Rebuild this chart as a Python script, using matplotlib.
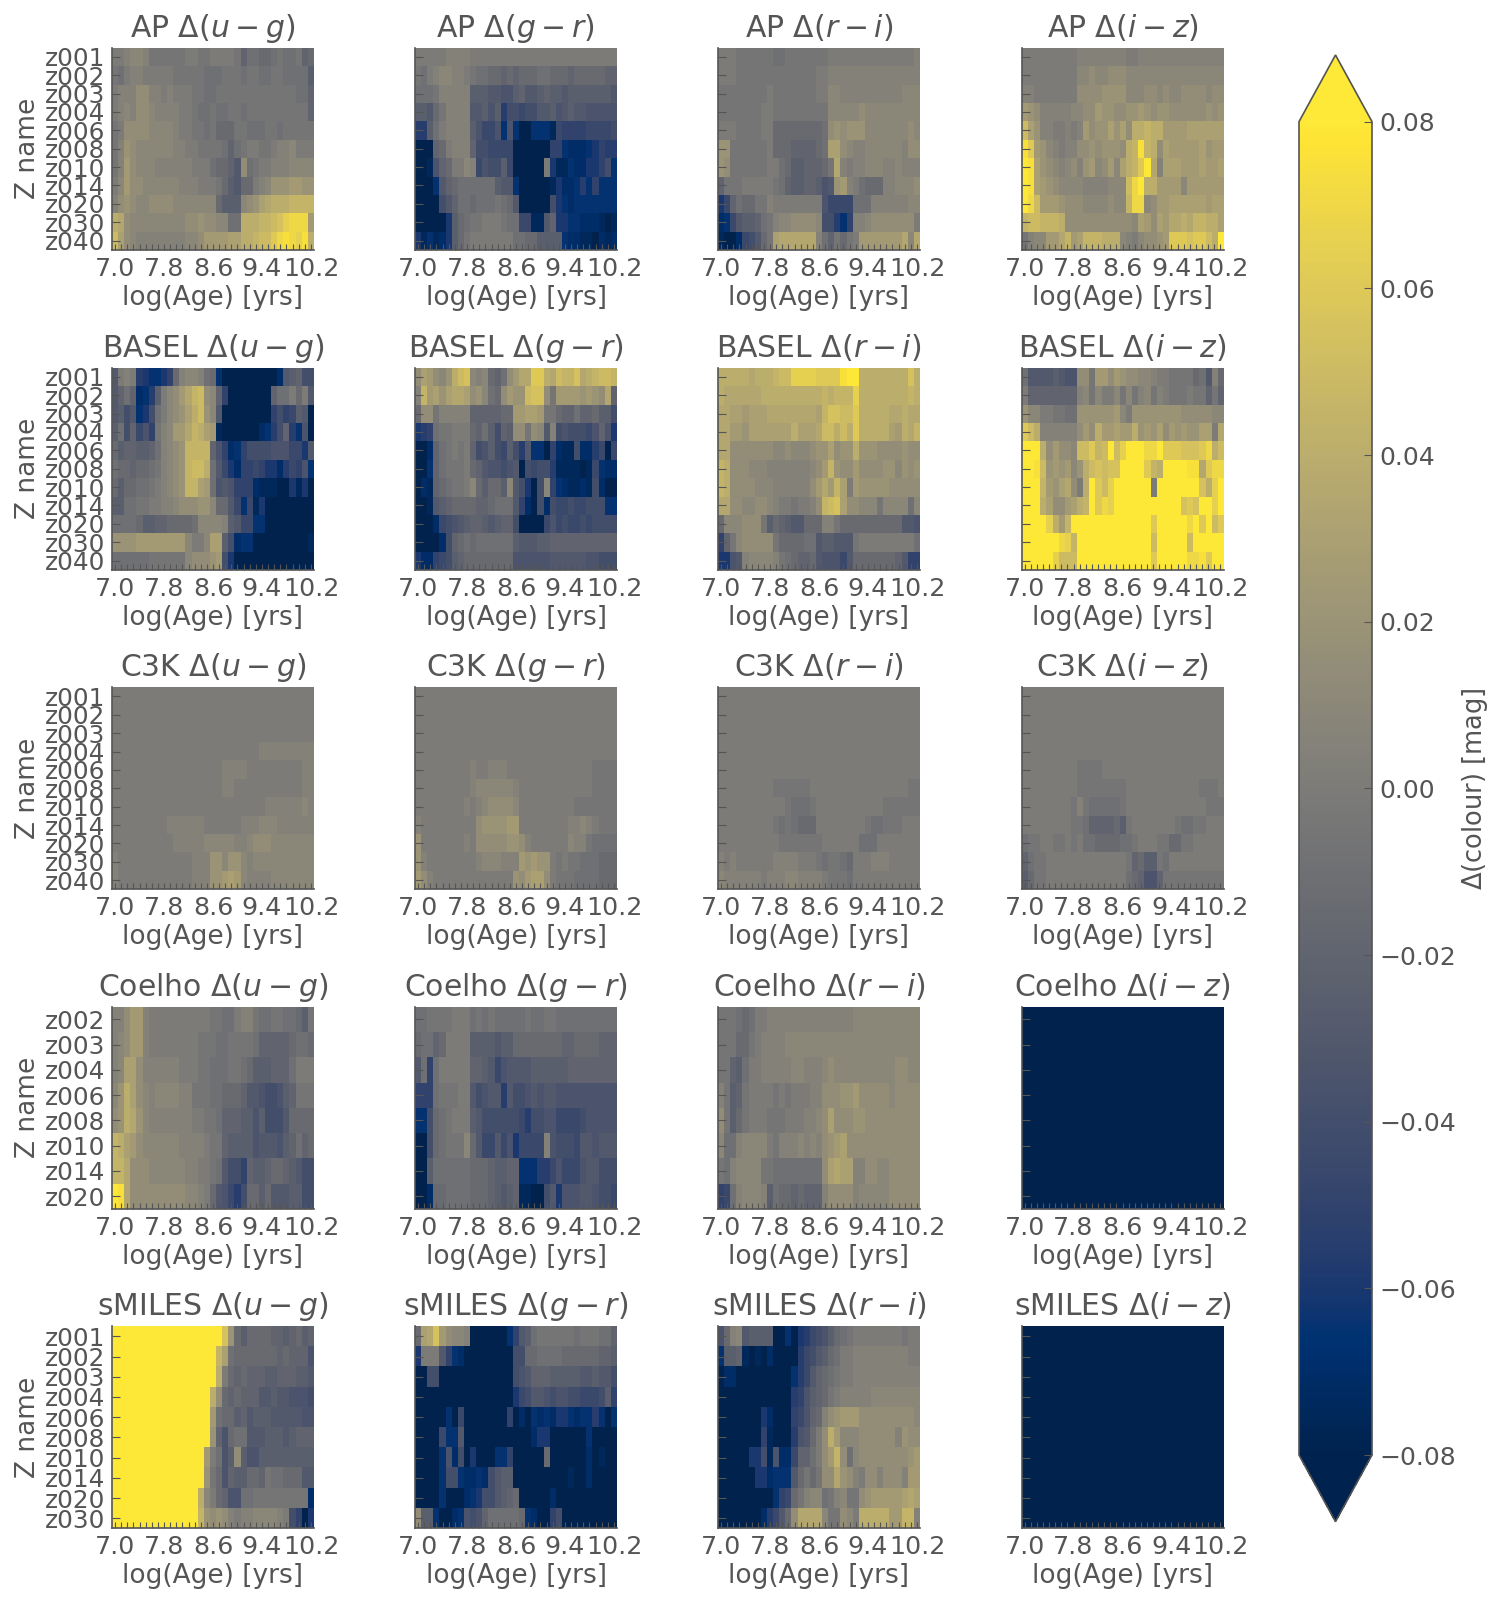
import numpy as np
import matplotlib
matplotlib.use("Agg")
import matplotlib.pyplot as plt
from matplotlib.cm import ScalarMappable
from matplotlib.colors import Normalize

# cell values below are in units of 0.005 mag
UNIT = 0.005
AGE_LABELS = ['7.0', '7.8', '8.6', '9.4', '10.2']
Z_ALL = ['z001', 'z002', 'z003', 'z004', 'z006', 'z008', 'z010', 'z014', 'z020', 'z030', 'z040']
Z_COELHO = ['z002', 'z003', 'z004', 'z006', 'z008', 'z010', 'z014', 'z020']
Z_SMILES = ['z001', 'z002', 'z003', 'z004', 'z006', 'z008', 'z010', 'z014', 'z020', 'z030']
LIBRARIES = ['AP', 'BASEL', 'C3K', 'Coelho', 'sMILES']
COLOURS = ['u-g', 'g-r', 'r-i', 'i-z']

AP_UG = [
    [0,0,1,2,2,1,-1,-1,-1,-1,-1, -1,0,0,-1,-1,0,0,0,0,-1,-4, -2,-2,-3,-3,-2,-1,-2,-2,-1,-4,-3],
    [-1,-2,0,1,1,0,0,0,0,0,-1, -1,-1,-1,-1,-2,-2,-2,-1,-1,-1,-2, -1,-1,-2,-2,-1,-1,-2,-2,-2,-2,-5],
    [0,1,1,1,3,3,1,1,0,1,0, 0,0,-1,-1,-2,-2,-1,-1,-1,-1,-1, -1,-1,-1,-1,-1,-1,-1,-1,-2,-2,-4],
    [0,1,2,1,3,3,2,1,1,1,1, 0,0,-1,-2,-2,-1,-2,-2,-1,-1,-2, -1,-1,-1,-1,-1,-1,-1,-1,-1,-1,-4],
    [-1,0,3,3,3,3,2,2,2,2,1, 0,0,-1,-1,-2,-1,-3,-3,-3,-1,-1, -2,-2,-2,-1,-1,-2,-1,-1,-1,-1,-1],
    [-1,1,4,3,2,2,2,2,2,2,1, 1,0,0,-1,-1,-1,-1,-2,-4,-2,-1, 0,0,-1,-1,0,1,1,2,0,0,0],
    [-1,1,5,3,2,2,2,1,1,1,1, 1,1,0,0,0,-2,-3,-3,-4,-6,3, -2,-1,0,0,1,1,1,2,2,2,2],
    [0,2,5,3,3,2,2,2,2,2,2, 1,1,1,0,0,0,-1,-3,-5,-6,-3, -3,0,1,2,4,4,4,5,5,4,4],
    [1,3,4,3,2,2,3,3,3,3,2, 2,2,2,2,2,2,-3,-5,-5,-5,2, 3,4,6,7,8,8,8,9,9,9,9],
    [8,7,3,2,2,2,2,2,2,2,2, 2,3,3,4,3,3,2,2,-2,-2,8, 8,8,9,9,10,11,13,14,14,14,5],
    [10,6,3,2,1,1,1,1,1,1,1, 1,2,2,3,5,5,5,5,6,6,8, 8,9,10,10,12,14,15,14,13,15,8],
]
AP_GR = [
    [0,0,0,0,0,1,1,1,1,0,0, 0,0,0,0,0,0,0,0,0,0,0, 0,0,0,0,0,0,0,0,0,0,0],
    [-1,-2,0,1,2,2,1,1,0,-1,-2, -2,-3,-3,-4,-3,-4,-3,-3,-3,-2,-2, -3,-3,-3,-4,-3,-3,-3,-3,-3,-4,-4],
    [-2,-2,-2,-1,1,1,1,1,1,-5,-5, -5,-6,-6,-7,-7,-5,-4,-6,-6,-5,-4, -5,-5,-6,-5,-5,-5,-5,-5,-5,-5,-6],
    [-5,-5,-6,-3,-1,1,1,1,1,-6,-6, -5,-7,-5,-11,-8,-8,-9,-8,-8,-6,-6, -5,-7,-6,-5,-6,-6,-7,-7,-7,-7,-7],
    [-11,-11,-5,-2,0,1,1,1,1,-5,-7, -9,-9,-7,-13,-7,-13,-16,-16,-13,-13,-13, -15,-9,-10,-10,-10,-10,-9,-9,-9,-9,-8],
    [-16,-16,-16,-4,-3,0,1,1,1,-4,-8, -8,-9,-9,-9,-9,-16,-16,-16,-16,-16,-16, -10,-10,-13,-14,-14,-14,-13,-12,-10,-11,-11],
    [-16,-16,-15,-7,-4,-3,0,0,2,1,-9, -7,-8,-8,-5,-9,-16,-16,-16,-16,-16,0, -12,-15,-15,-13,-14,-14,-12,-12,-10,-8,-13],
    [-16,-16,-16,-13,-6,-4,-3,-2,-2,-2,-2, -2,-2,-5,-6,-6,-13,-16,-16,-16,-16,-16, -15,-12,-14,-14,-13,-11,-13,-10,-13,-13,-13],
    [-16,-16,-16,-16,-8,-6,-4,-2,-2,-3,-2, -2,-2,-1,-2,-3,-6,-16,-16,-16,-16,-16, -8,-12,-13,-14,-13,-13,-13,-13,-13,-13,-13],
    [-16,-16,-16,-16,-16,-12,-5,-3,-2,-1,-1, 0,0,0,-1,-2,-2,-9,-9,-15,-15,-6, -4,-12,-12,-13,-13,-14,-14,-14,-15,-16,-15],
    [-12,-15,-13,-15,-14,-12,-5,-3,-1,0,0, 0,0,0,0,0,-2,-2,-3,-3,-5,-5, -5,-5,-13,-14,-14,-15,-15,-16,-14,-15,-14],
]
AP_RI = [
    [0,0,0,-1,-1,-1,-1,-1,-1,-2,-2, -1,-1,-1,-1,-1,-1,-1,0,0,0,0, 0,0,0,0,0,0,0,0,0,0,1],
    [0,0,0,-1,-1,-1,-1,-1,-1,-1,-1, -1,-1,-1,-1,-1,0,0,1,1,1,1, 1,1,1,1,1,1,1,1,1,1,1],
    [-1,-1,-1,-1,-1,-1,-1,-1,0,-1,-1, -1,-1,-1,-1,-1,0,0,2,2,1,1, 1,1,1,1,1,1,1,1,2,2,2],
    [-1,-1,-1,-1,-1,-1,-1,0,0,-1,-1, -1,-1,-1,-1,-1,-1,-1,2,2,2,2, 2,3,2,2,2,2,2,2,2,2,2],
    [0,0,0,-1,-1,-1,-1,0,0,-3,-3, -3,-3,-3,-3,-3,-3,-2,3,4,3,4, 4,4,2,2,2,2,2,2,2,3,2],
    [4,4,-1,-1,-1,-1,-1,-1,0,-3,-3, -3,-4,-4,-4,-4,-3,-2,6,6,3,2, 1,1,2,2,2,2,2,2,1,3,3],
    [4,3,-1,-1,-1,-1,-1,-1,0,0,-2, -3,-5,-5,-4,-4,-4,-3,-1,7,1,0, 1,1,2,2,2,1,1,2,1,1,1],
    [-4,-1,-1,-1,0,0,0,0,0,-1,-2, -4,-5,-5,-4,-4,-5,-7,-6,4,5,1, 0,-2,-3,-3,-3,1,1,2,2,2,3],
    [-12,-9,-4,-2,-3,-3,-1,-1,1,0,0, 0,0,0,0,0,0,-7,-9,-9,-9,-9, -2,-2,-2,1,1,1,1,1,1,2,2],
    [-14,-13,-9,-6,-5,-5,-4,-2,-1,1,2, 2,3,3,3,3,2,-8,-8,-11,-13,-10, 1,1,2,3,3,3,3,3,3,3,0],
    [-15,-16,-16,-14,-9,-8,-6,-3,-1,6,7, 7,7,7,7,7,1,-2,-4,-1,-3,-1, 0,5,5,5,5,5,5,5,7,2,7],
]
AP_IZ = [
    [0,0,0,0,0,0,0,0,0,1,1, 1,1,1,1,1,1,0,0,1,1,1, 1,1,1,1,1,1,1,1,1,1,1],
    [0,0,0,0,0,0,0,0,0,2,2, 3,2,2,3,3,3,2,2,2,2,2, 2,2,2,2,2,2,2,2,2,2,2],
    [1,1,0,0,0,0,0,0,0,3,3, 3,3,4,4,4,4,2,2,2,3,3, 2,3,2,2,3,3,3,3,2,3,3],
    [5,4,3,1,1,1,1,1,2,2,3, 3,5,4,4,3,3,4,4,5,4,3, 4,4,3,3,3,3,3,3,4,3,4],
    [10,6,4,1,1,0,0,1,0,1,5, 3,4,4,6,4,6,3,8,8,9,8, 8,5,5,5,5,6,6,6,6,6,6],
    [15,12,5,4,2,1,0,1,1,3,3, 4,3,4,4,4,3,8,9,15,9,8, 3,6,5,5,5,5,5,6,4,5,5],
    [16,15,6,4,3,2,1,2,3,1,4, 5,2,3,5,2,6,8,9,12,16,7, 1,6,6,6,5,5,5,6,5,5,6],
    [16,15,6,5,4,3,2,2,2,2,1, 1,1,1,2,2,2,10,14,16,8,8, 5,5,5,5,2,5,5,5,5,5,5],
    [16,14,10,5,5,5,4,3,3,3,2, 2,2,2,3,2,2,9,14,14,2,3, 5,5,6,6,6,6,6,6,5,6,6],
    [9,10,10,9,9,9,8,3,3,3,3, 3,3,3,3,3,3,3,2,6,5,3, 6,5,7,7,8,7,9,9,8,8,6],
    [-1,1,2,2,5,5,7,9,5,6,9, 9,9,8,8,8,2,1,0,2,3,3, 4,5,12,12,12,11,12,12,10,8,16],
]
BASEL_UG = [
    [-6,0,1,0,-11,-12,-13,-13,-12,-10,-3, 1,2,2,1,-2,-3,-13,-16,-16,-16,-16, -16,-16,-16,-16,-16,-14,-6,-5,-4,-8,-8],
    [-6,-4,-2,-4,-14,-13,-11,-5,0,2,3, 5,7,9,10,3,2,-4,-10,-16,-16,-16, -16,-16,-16,-16,-4,-2,-2,0,-3,0,-6],
    [-6,-5,-8,-6,-13,-12,-8,-2,0,2,3, 4,6,8,10,4,2,-6,-16,-16,-16,-16, -16,-16,-16,-16,-10,-8,-10,-9,-5,-6,-16],
    [-5,-2,-8,-4,-9,-7,-10,-1,1,2,5, 5,7,9,8,6,5,-15,-16,-16,-16,-16, -16,-16,-14,-13,-11,-8,-4,-11,-13,-7,-16],
    [-3,-5,-4,-4,-5,-5,-4,-2,1,2,3, 4,9,9,9,9,-4,-7,-10,-14,-13,-10, -8,-8,-8,-8,-7,-7,-7,-9,-9,-12,-6],
    [-2,-3,-3,-4,-3,-3,-2,-1,1,2,3, 4,9,10,10,8,-2,-6,-9,-12,-14,-10, -10,-9,-10,-12,-12,-14,-11,-9,-10,-7,-13],
    [-3,-5,-3,-3,-2,-2,-1,0,1,2,3, 4,9,9,6,5,-2,-7,-6,-7,-10,-10, -10,-14,-15,-15,-15,-16,-16,-12,-15,-12,-16],
    [-5,-5,-2,-2,-1,-1,0,0,1,1,2, 3,3,3,4,4,2,-3,-3,-6,-9,-13, -9,-15,-12,-16,-16,-16,-16,-16,-16,-16,-16],
    [-2,-2,-2,-2,-3,-5,-5,-4,-4,-3,-3, -3,-3,-2,2,2,2,2,1,-5,-6,-9, -9,-13,-13,-16,-16,-16,-16,-16,-16,-16,-16],
    [4,4,4,4,5,5,5,5,5,5,5, 5,2,0,0,2,6,6,-5,-8,-14,-13, -13,-16,-16,-16,-16,-16,-16,-16,-16,-16,-15],
    [-2,-2,-2,-2,-2,-2,-1,-1,-1,-1,-1, -1,2,3,3,3,4,5,-8,-12,-16,-16, -16,-16,-16,-16,-16,-16,-16,-16,-16,-16,-16],
]
BASEL_GR = [
    [3,6,5,3,2,4,8,10,11,2,1, 2,-3,-4,-2,3,5,7,7,12,12,8, 7,10,9,9,11,7,8,9,10,10,9],
    [1,9,5,6,4,6,7,7,6,3,4, 2,-2,-3,3,5,4,4,10,11,11,3, -1,5,5,5,5,4,5,4,3,7,-4],
    [-3,3,3,-1,1,1,1,1,1,-4,-4, -4,-4,-4,-3,-3,5,5,6,6,5,-1, -1,-3,-4,-4,-2,-4,-4,-3,-5,-5,-8],
    [-12,-11,-10,-2,-1,-1,0,0,0,-3,-4, -2,-5,-8,-4,-5,3,3,-1,3,2,-6, 1,-8,-7,-8,-8,-8,-9,-7,-4,-7,-12],
    [-16,-16,-14,-4,-2,-1,0,-1,0,-4,-8, -7,-5,-8,-9,-5,-8,-11,-6,-13,-13,-16, -10,-14,-15,-15,-8,-14,-14,-11,-9,-16,-9],
    [-16,-16,-13,-4,-2,-1,-1,-1,0,-3,-4, -6,-7,-7,-8,-7,-6,-16,-8,-9,-8,-8, -11,-15,-15,-15,-15,-16,-15,-9,-13,-14,-14],
    [-16,-14,-15,-4,-3,-2,-1,-1,0,2,-3, -5,-3,-3,-5,2,-6,-8,-12,-16,-8,2, -10,-13,-14,-15,-15,-14,-15,-8,-14,-16,-16],
    [-16,-16,-15,-6,-5,-4,-3,-3,-3,-3,-4, -4,-3,-2,-2,-2,-6,-10,-14,-16,-8,-14, -8,-9,-9,-8,-9,-9,-8,-8,-8,-13,-13],
    [-16,-16,-16,-14,-9,-8,-7,-6,-5,-4,-4, -5,-6,-5,-4,-4,-8,-16,-16,-16,-16,-9, -7,-9,-8,-9,-9,-8,-9,-8,-8,-8,-8],
    [-16,-16,-16,-16,-14,-8,-4,-3,-2,-3,-2, -2,-2,-2,-2,-2,-5,-6,-6,-6,-5,-5, -4,-4,-4,-4,-4,-4,-4,-4,-4,-4,-4],
    [-12,-14,-14,-10,-9,-8,-5,-4,-3,-3,-3, -3,-3,-3,-3,-3,-7,-7,-7,-7,-7,-7, -6,-6,-6,-6,-6,-6,-7,-7,-8,-8,-8],
]
BASEL_RI = [
    [8,8,8,8,8,7,8,8,8,9,10, 10,13,13,13,13,12,12,12,12,15,16, 16,8,8,8,8,8,8,8,8,11,8],
    [8,7,7,7,7,7,7,8,8,8,8, 8,8,8,8,8,8,9,8,9,9,9, 13,8,8,8,8,8,8,8,8,9,8],
    [7,7,6,6,5,6,6,6,7,7,7, 7,7,7,7,7,6,9,11,11,10,10, 12,8,8,8,8,8,7,7,8,7,7],
    [7,7,5,5,4,6,6,6,6,6,6, 6,8,6,6,6,7,10,10,8,10,8, 12,8,8,8,8,8,6,5,8,7,9],
    [7,7,3,3,3,3,3,3,3,2,2, 3,2,2,2,3,4,4,6,3,4,4, 8,4,4,4,3,3,3,3,4,3,3],
    [9,8,3,3,3,2,2,2,1,1,1, 1,1,1,1,2,3,5,9,4,3,3, 5,3,3,3,3,4,4,2,4,3,4],
    [9,8,3,3,3,3,2,2,2,1,1, 1,1,1,1,3,5,7,5,9,6,0, 5,4,4,4,4,4,3,3,3,3,3],
    [7,7,3,3,2,2,3,3,2,1,0, 0,-1,0,0,1,3,9,10,11,6,3, 3,2,2,2,-1,2,2,2,2,-2,2],
    [-3,2,2,2,3,3,3,-1,-5,-3,-4, -5,-6,-6,-3,-3,-3,1,1,-1,-3,-3, -3,-3,-3,-3,-3,-3,-3,-3,-6,-6,-7],
    [-10,-4,-1,2,3,3,3,3,3,-1,-3, -3,-3,-3,-2,-2,-6,-5,-5,-6,-6,-6, -1,0,0,0,0,0,0,0,0,0,-2],
    [-12,-12,-7,-6,1,2,2,2,2,1,-1, -2,-3,-4,-4,-3,-6,-7,-7,-7,-9,-6, -3,-3,-3,-3,-3,-3,-3,-4,-6,-10,-10],
]
BASEL_IZ = [
    [-2,-6,-6,-6,-6,-5,-6,-7,-7,3,3, -1,5,5,3,5,4,3,3,2,2,1, 0,0,-1,-1,-1,-1,-3,-2,-6,1,-3],
    [0,-4,-4,-4,-4,-4,-4,-4,-4,1,2, -1,2,0,0,2,-1,2,-1,1,2,-1, 1,0,-1,-1,-1,0,-1,-1,-4,-1,-4],
    [4,2,2,0,0,-1,-1,-2,-2,4,4, 4,4,4,4,5,2,0,4,4,4,4, 4,4,4,4,3,3,3,3,3,2,2],
    [12,10,8,1,1,1,1,1,1,3,5, 3,8,5,5,6,5,5,8,4,5,4, 6,3,5,4,5,4,4,6,6,0,7],
    [16,16,16,8,3,5,3,3,2,10,10, 12,9,10,16,10,13,16,16,16,14,14, 16,12,12,12,11,11,11,12,14,8,10],
    [16,16,15,10,4,5,4,5,2,4,8, 10,11,10,11,11,16,16,16,16,12,9, 8,16,16,16,16,15,15,7,12,14,14],
    [16,16,16,9,5,4,6,7,3,0,8, 16,12,10,13,16,16,16,16,16,16,0, 16,16,16,16,16,16,16,11,8,13,16],
    [16,16,16,8,6,3,3,5,6,8,9, 16,12,14,13,16,16,16,16,16,16,16, 16,16,16,16,11,12,11,16,16,13,16],
    [16,16,16,16,13,8,5,9,16,16,16, 16,16,16,16,16,16,16,16,16,16,12, 16,16,16,16,16,14,16,12,16,10,12],
    [16,16,16,16,16,16,14,13,9,16,16, 16,16,16,16,16,16,16,16,16,16,10, 16,16,16,16,16,10,16,16,16,16,16],
    [16,16,16,16,16,13,10,10,10,16,16, 16,16,16,16,16,16,16,16,16,16,12, 16,16,16,16,16,14,14,15,12,16,16],
]
C3K_UG = [
    [0]*33,
    [0]*33,
    [0]*33,
    [0]*24 + [1]*9,
    [0,0,0,0,0,0,0,0,0,0,0, 0,0,0,0,0,0,0,1,1,1,1, 0,0,0,0,0,0,0,0,0,1,1],
    [0,0,0,0,0,0,0,0,0,0,0, 0,0,0,0,0,0,0,1,1,0,0, 0,0,0,0,0,0,0,0,0,1,1],
    [0,0,0,0,0,0,0,0,0,0,0, 0,0,0,0,0,0,0,0,0,0,0, 0,0,0,1,1,1,1,1,1,2,1],
    [0,0,0,0,0,0,0,0,0,1,1, 1,1,1,1,0,0,0,0,0,0,1, 1,1,2,2,2,1,1,1,1,1,1],
    [0,0,0,0,0,0,0,0,0,0,1, 1,1,1,1,2,2,2,2,2,1,1, 2,3,3,3,2,2,2,2,2,2,2],
    [1,0,0,0,0,0,0,0,0,0,0, 0,0,1,1,1,4,4,2,4,4,2, 1,2,2,2,2,2,2,2,2,2,2],
    [1,0,0,0,0,0,0,0,0,0,0, 0,0,1,1,1,4,4,5,6,5,2, 1,1,1,1,2,2,2,2,2,2,2],
]
C3K_GR = [
    [0]*33,
    [0]*33,
    [0]*33,
    [0]*33,
    [0,0,0,0,0,0,0,0,0,1,0, 0,1,1,1,0,0,0,0,0,0,0, 0,0,0,0,0,0,0,-1,-1,-1,-1],
    [0,0,0,0,0,0,0,0,0,1,2, 2,2,2,2,2,1,0,0,0,0,0, 0,0,0,0,0,0,0,-1,-1,-1,-1],
    [0,0,0,0,0,0,0,0,1,0,1, 2,3,3,3,3,2,0,0,0,0,0, 0,0,0,0,-1,-1,-1,-1,-1,-1,-1],
    [1,0,0,0,0,0,0,0,0,0,3, 4,4,4,4,5,5,0,0,0,0,0, 0,0,0,1,1,2,1,0,-1,-1,-1],
    [4,0,0,0,0,0,0,0,1,0,3, 3,3,3,3,4,4,3,1,0,0,0, 0,0,0,2,1,1,-1,-2,-2,-2,-2],
    [4,1,0,0,0,0,0,0,0,0,1, 2,2,2,1,1,1,5,4,5,4,4, 0,-1,0,-1,-1,-2,-2,-2,-3,-3,-3],
    [5,3,1,0,0,0,0,0,0,0,0, 0,0,0,0,0,4,3,5,6,6,3, 0,-1,-1,-1,-2,-2,-2,-2,-3,-3,-3],
]
C3K_RI = [
    [0]*33,
    [0]*33,
    [0]*33,
    [0]*33,
    [0]*33,
    [0,0,0,0,0,0,0,0,0,-1,-1, -1,-1,-1,-1,0,0,0,0,0,0,0, 0,0,0,0,0,0,0,0,0,-1,-1],
    [0,0,0,0,0,0,0,0,0,0,0, -1,-2,-2,-2,-1,0,0,0,0,0,0, 0,0,0,0,0,-1,-1,-1,-1,-1,-1],
    [0,0,0,0,0,0,0,0,0,-1,-2, -1,-2,-3,-3,-3,0,0,0,0,0,0, 0,0,-1,-2,-2,-1,-1,-1,0,0,0],
    [0,0,0,0,0,0,0,0,0,0,-1, -1,-1,-1,-1,-1,-1,0,0,0,0,0, 0,-2,-2,-2,0,0,0,0,0,0,0],
    [1,0,1,0,0,0,0,0,0,1,1, 1,1,0,0,0,-1,-2,-1,-1,-2,-3, 0,0,0,1,1,1,0,0,0,0,0],
    [2,1,1,1,1,1,1,0,1,1,1, 2,2,1,1,1,1,0,-1,-1,-1,-2, 0,0,0,0,0,0,0,0,0,0,0],
]
C3K_IZ = [
    [0]*33,
    [0]*33,
    [0]*33,
    [0]*33,
    [0,0,0,0,0,0,0,0,0,-1,-1, -1,-1,0,0,0,0,0,0,0,0,0, 0,0,0,0,0,0,0,0,0,0,0],
    [0,0,0,0,0,0,0,0,0,-1,-1, -1,-1,-1,-1,-1,-1,0,0,0,0,0, 0,0,0,0,0,0,0,-1,-1,-1,0],
    [0,0,0,0,0,0,0,0,-1,1,-1, -2,-2,-2,-2,-2,-1,0,0,0,0,0, 0,0,0,0,0,0,0,0,-1,-1,-1],
    [0,0,0,0,0,0,0,0,-1,-1,-2, -4,-4,-4,-4,-3,-5,-1,0,0,0,0, 0,0,0,-1,-2,-2,-1,-1,0,0,0],
    [-2,-1,-1,0,0,-1,-1,0,-1,0,-2, -2,-3,-3,-3,-3,-2,-2,-1,0,0,0, -1,-1,-3,-3,-1,-1,0,0,0,0,0],
    [-4,-2,-1,-1,0,0,0,0,0,0,0, 0,0,0,0,0,0,-1,-4,-3,-5,-5, -1,-2,0,0,0,0,0,0,0,0,0],
    [-5,-3,-1,-1,0,0,0,0,0,0,0, 0,0,0,0,0,0,-2,-3,-4,-7,-7, -4,-1,-1,-1,-1,-1,-1,-1,-1,-1,-1],
]
COELHO_UG = [
    [1,1,3,5,5,1,0,0,0,0,0, 0,0,0,0,0,-1,-1,-2,-2,0,1, 1,-1,-2,-2,-1,-1,-2,-2,-3,-5,-1],
    [1,2,3,5,5,1,0,0,0,0,0, 0,0,0,-1,-1,-1,-2,-2,-1,-1,-1, -1,-2,-4,-4,-4,-4,-4,-3,-2,-2,-3],
    [1,2,6,6,3,1,1,1,1,1,1, 0,0,0,-1,-1,-2,-2,-2,-1,-1,-2, -3,-5,-5,-5,-4,-4,-4,-2,0,0,0],
    [2,4,8,6,3,2,1,2,2,2,2, 1,1,-1,-1,-1,-2,-2,-3,-3,-3,-4, -6,-6,-7,-8,-8,-7,-5,-4,-1,-1,-1],
    [3,4,8,7,4,2,1,1,1,1,1, 1,1,0,0,-1,-1,-2,-4,-4,-4,-5, -5,-7,-5,-8,-8,-8,-6,-3,-3,-3,-3],
    [9,8,6,5,3,2,2,2,2,2,2, 1,1,1,1,0,-1,-1,-4,-5,-5,-5, -5,-7,-6,-6,-6,-7,-5,-4,-2,-4,-3],
    [9,9,7,3,3,3,2,2,2,2,2, 2,1,1,0,0,-1,-2,-6,-8,-8,-10, -4,-5,-5,-4,-3,-3,-4,-5,-6,-8,-8],
    [16,15,7,3,3,3,3,3,3,3,3, 3,2,2,1,0,-3,-6,-7,-9,-11,-8, -3,-3,-5,-3,-6,-6,-6,-5,-5,-8,-8],
]
COELHO_GR = [
    [-2,-2,-1,-1,-1,-1,0,0,0,-2,-1, -2,-1,-2,-2,-2,-2,-2,-1,-2,-2,-1, -1,-2,-2,-2,-2,-2,-2,-2,-2,-2,-2],
    [-3,-2,-2,-4,-3,0,0,0,0,-5,-5, -5,-5,-6,-5,-5,-3,-3,-3,-3,-3,-3, -3,-3,-4,-4,-3,-3,-3,-3,-4,-4,-4],
    [-6,-2,-10,-2,0,0,0,0,0,-4,-4, -5,-6,-9,-7,-6,-6,-6,-6,-5,-5,-5, -5,-5,-5,-4,-4,-4,-4,-4,-4,-4,-4],
    [-10,-10,-10,-2,-1,-1,-1,0,0,-6,-8, -7,-6,-6,-11,-6,-8,-8,-7,-6,-7,-6, -6,-7,-7,-7,-7,-7,-7,-7,-7,-7,-7],
    [-13,-13,-8,-3,-2,-1,0,0,0,-5,-6, -8,-8,-8,-8,-8,-8,-9,-11,-8,-8,-7, -7,-9,-9,-9,-9,-8,-7,-7,-7,-7,-7],
    [-16,-16,-8,-3,-2,-1,-1,-1,2,-3,-6, -9,-9,-6,-9,-7,-12,-9,-9,-9,-9,1, -7,-8,-8,-8,-9,-6,-6,-7,-6,-6,-6],
    [-16,-16,-5,-2,-2,-2,-2,-2,-2,-3,-3, -3,-4,-5,-5,-4,-4,-13,-13,-13,-11,-11, -9,-7,-9,-9,-9,-7,-6,-6,-8,-8,-8],
    [-16,-16,-14,-3,-3,-2,-2,-2,-2,-3,-3, -3,-4,-5,-6,-5,-4,-15,-15,-16,-16,-8, -6,-12,-7,-7,-7,-6,-6,-7,-8,-8,-9],
]
COELHO_RI = [
    [-1,-1,-1,-2,-3,-2,0,0,1,1,1, 1,1,1,1,1,1,1,1,1,1,1, 2,2,2,2,2,2,2,2,2,2,2],
    [-1,-1,-1,-3,-3,-1,0,1,1,1,1, 2,2,2,2,2,2,2,2,2,2,2, 2,2,2,2,2,2,2,2,2,2,2],
    [-1,-1,-4,-5,-2,0,0,1,1,1,1, 1,2,2,1,1,1,2,3,2,2,2, 2,2,2,2,2,2,2,3,3,2,2],
    [1,-1,-5,-4,-1,0,0,0,0,-1,0, -1,0,0,0,1,1,3,3,3,4,4, 5,3,3,3,3,3,2,3,3,3,3],
    [3,-1,-5,-3,-1,0,0,0,-1,-1,-1, 0,0,0,1,1,2,3,6,3,3,3, 4,4,3,3,3,3,3,3,3,3,3],
    [2,-2,-2,1,2,2,2,2,0,-1,1, 1,1,2,1,2,1,3,4,5,6,3, 3,3,3,3,3,3,3,3,3,3,3],
    [-1,-2,1,2,2,2,2,-1,-1,-2,-2, -2,-2,-2,-2,-2,-2,3,6,7,6,6, 1,1,3,3,2,2,3,3,3,3,3],
    [-10,-9,-2,1,2,2,2,1,-5,-2,-3, -3,-4,-3,-4,-4,-4,1,3,3,3,3, 1,2,2,2,2,2,3,3,3,3,3],
]
COELHO_IZ = [[-20]*33]*8
SMILES_UG = [
    [16,16,16,16,16,16,16,16,16,16,16, 16,16,16,16,16,16,16,11,4,-3,-5, -3,-3,-3,-3,-4,-4,-5,-4,-3,-5,-4],
    [16,16,16,16,16,16,16,16,16,16,16, 16,16,16,16,16,16,9,6,-2,-3,-3, -3,-3,-3,-3,-3,-4,-3,-4,-4,-4,-7],
    [16,16,16,16,16,16,16,16,16,16,16, 16,16,16,16,16,16,8,0,-3,-4,-3, -4,-4,-4,-5,-5,-4,-4,-4,-5,-5,-6],
    [16,16,16,16,16,16,16,16,16,16,16, 16,16,16,16,16,8,3,-3,-4,-3,-4, -4,-4,-6,-6,-5,-6,-6,-7,-7,-7,-8],
    [16,16,16,16,16,16,16,16,16,16,16, 16,16,16,16,16,5,-2,-3,-3,-5,-4, -6,-5,-5,-5,-6,-6,-6,-6,-6,-7,-7],
    [16,16,16,16,16,16,16,16,16,16,16, 16,16,16,16,16,4,-4,-7,-3,-2,-2, -6,-6,-6,-5,-5,-5,-6,-5,-4,-4,-4],
    [16,16,16,16,16,16,16,16,16,16,16, 16,16,16,16,5,0,-2,-7,-5,3,-5, -7,-7,-5,-5,-5,-5,-5,-5,-5,-5,-5],
    [16,16,16,16,16,16,16,16,16,16,16, 16,16,16,16,4,-1,-3,-7,-4,-5,-5, -3,-3,-4,-1,-2,-2,-3,-3,-3,-6,-6],
    [16,16,16,16,16,16,16,16,16,16,16, 16,16,16,8,2,0,-3,-4,-7,-7,-2, -2,-1,-1,-1,-1,-1,-1,-1,-1,-1,-14],
    [16,16,16,16,16,16,16,16,16,16,16, 16,16,16,9,4,3,4,3,1,0,1, 1,2,2,2,2,1,0,-8,-10,-16,-12],
]
SMILES_GR = [
    [-3,6,7,11,5,3,2,2,1,-16,-16, -16,-16,-16,-16,-13,-10,-6,-5,-2,-1,-1, -1,-1,-1,-1,-2,-1,-1,-1,-2,-2,-4],
    [-12,0,0,0,-6,-10,-13,-14,-16,-16,-16, -16,-16,-16,-16,-16,-8,-8,-3,-3,-2,-2, -2,-2,-3,-3,-3,-3,-3,-3,-4,-4,-5],
    [-16,-16,-8,-8,-16,-16,-16,-16,-16,-16,-16, -16,-16,-16,-16,-16,-8,-7,-6,-4,-4,-4, -5,-5,-5,-5,-5,-6,-6,-5,-6,-6,-8],
    [-16,-16,-16,-16,-16,-16,-16,-16,-16,-16,-16, -16,-16,-16,-16,-16,-12,-9,-8,-6,-6,-7, -8,-7,-7,-8,-8,-9,-9,-9,-8,-5,-10],
    [-16,-16,-16,-16,-16,-13,-16,-9,-16,-16,-16, -16,-16,-16,-16,-10,-16,-14,-16,-13,-14,-13, -14,-12,-12,-13,-14,-13,-13,-11,-13,-16,-13],
    [-16,-16,-16,-16,-9,-13,-13,-6,-16,-16,-16, -16,-16,-16,-16,-16,-16,-16,-16,-14,-12,-12, -16,-16,-16,-16,-16,-16,-13,-16,-16,-16,-16],
    [-16,-16,-16,-16,-13,-7,-14,-8,-16,-12,-16, -16,-16,-13,-13,-10,-16,-16,-16,-16,-16,-3, -16,-16,-16,-16,-16,-16,-14,-16,-15,-16,-16],
    [-16,-16,-16,-16,-13,-8,-8,-13,-14,-14,-13, -14,-8,-6,-5,-5,-16,-16,-16,-16,-16,-16, -16,-16,-16,-15,-16,-16,-14,-16,-16,-16,-16],
    [-16,-16,-16,-16,-13,-16,-16,-16,-14,-13,-12, -8,-8,-6,-5,-4,-3,-16,-16,-16,-16,-16, -14,-16,-16,-16,-16,-16,-16,-16,-16,-16,-16],
    [3,-5,-5,-13,-16,-16,-14,-13,-7,-8,-7, -4,-2,-2,-2,-2,-2,-3,-13,-14,-16,-16, -10,-8,-16,-16,-16,-16,-16,-16,-16,-16,-16],
]
SMILES_RI = [
    [-7,-3,1,2,-6,-5,-5,-5,-5,-16,-16, -13,-16,-12,-11,-9,-8,-7,-5,-3,-2,-1, 0,0,0,0,0,0,0,0,-1,0,0],
    [-13,-5,-5,-4,-15,-16,-15,-16,-14,-16,-16, -16,-16,-11,-9,-8,-6,-5,-3,-2,0,0, 1,1,1,1,1,1,1,1,1,0,0],
    [-16,-14,-14,-16,-16,-16,-16,-16,-16,-16,-16, -16,-13,-11,-9,-6,-4,-3,-2,-1,0,0, 1,1,1,1,1,1,1,1,1,1,1],
    [-16,-16,-16,-16,-16,-16,-16,-16,-16,-16,-16, -16,-11,-10,-7,-5,-4,-3,-1,0,1,1, 1,1,1,2,2,2,2,2,2,2,2],
    [-16,-16,-16,-16,-16,-16,-16,-12,-14,-16,-16, -16,-10,-9,-7,-4,-3,1,3,4,5,5, 5,3,3,3,3,3,3,3,3,3,2],
    [-16,-16,-16,-16,-16,-16,-16,-10,-15,-16,-16, -16,-11,-7,-6,-3,0,3,8,5,2,2, 2,3,3,3,3,3,3,1,4,3,3],
    [-16,-16,-16,-16,-16,-12,-12,-8,-15,-7,-14, -14,-9,-4,-4,-2,0,3,5,9,3,-2, 2,3,3,3,3,3,3,3,3,4,5],
    [-16,-16,-16,-16,-16,-16,-12,-12,-14,-13,-13, -13,-6,-3,-1,-3,-1,3,3,7,4,3, 1,0,3,3,1,3,3,3,1,5,5],
    [-16,-16,-16,-16,-16,-16,-16,-16,-16,-13,-10, -9,-3,-1,1,2,2,-2,-1,1,2,-1, -1,3,4,5,5,5,5,5,6,7,6],
    [-16,-16,-16,-16,-16,-16,-16,-14,-11,-9,-6, -3,3,7,7,7,7,2,-1,-1,3,2, 0,8,8,8,8,8,5,5,9,9,1],
]
SMILES_IZ = [[-20]*33]*10

PANELS = [
    [AP_UG, AP_GR, AP_RI, AP_IZ],
    [BASEL_UG, BASEL_GR, BASEL_RI, BASEL_IZ],
    [C3K_UG, C3K_GR, C3K_RI, C3K_IZ],
    [COELHO_UG, COELHO_GR, COELHO_RI, COELHO_IZ],
    [SMILES_UG, SMILES_GR, SMILES_RI, SMILES_IZ],
]
Z_NAMES = [Z_ALL, Z_ALL, Z_ALL, Z_COELHO, Z_SMILES]

W, H = 1500, 1605
GREY = '#555555'
LEFTS = [112, 415, 718, 1021.5]
TOPS = [47.7, 367.7, 687.3, 1006.8, 1326.3]
SIZE_W, SIZE_H = 202, 202

plt.rcParams['font.family'] = 'DejaVu Sans'
plt.rcParams['mathtext.fontset'] = 'dejavusans'
plt.rcParams['font.size'] = 19
plt.rcParams['text.color'] = GREY
plt.rcParams['axes.labelcolor'] = GREY
plt.rcParams['axes.titlecolor'] = GREY
plt.rcParams['xtick.color'] = GREY
plt.rcParams['ytick.color'] = GREY
plt.rcParams['xtick.direction'] = 'in'
plt.rcParams['ytick.direction'] = 'in'

fig = plt.figure(figsize=(W/100, H/100), dpi=100)

def pixel_axes(left, top, width, height):
    return fig.add_axes([left/W, 1 - (top + height)/H, width/W, height/H])

for i, lib in enumerate(LIBRARIES):
    for j, col in enumerate(COLOURS):
        ax = pixel_axes(LEFTS[j], TOPS[i], SIZE_W, SIZE_H)
        vals = np.array(PANELS[i][j])*UNIT
        ax.imshow(vals, cmap='cividis', vmin=-0.08, vmax=0.08, aspect='auto', interpolation='nearest')
        a, b = col.split('-')
        ax.set_title(lib + r' $\Delta(' + a + '-' + b + ')$', fontsize=21.5, pad=8)
        ax.set_xticks(range(33))
        ax.set_xticklabels([AGE_LABELS[k//8] if k % 8 == 0 else '' for k in range(33)])
        ax.set_yticks(range(len(Z_NAMES[i])))
        if j == 0:
            ax.set_yticklabels(Z_NAMES[i])
            ax.set_ylabel('Z name', labelpad=3)
        else:
            ax.set_yticklabels([])
        ax.tick_params(axis='x', length=4, width=0.8, pad=5, labelsize=18.2)
        ax.tick_params(axis='y', length=6, width=0.8, pad=5, labelsize=17.8)
        ax.set_xlabel('log(Age) [yrs]', labelpad=3)
        ax.spines['top'].set_visible(False)
        ax.spines['right'].set_visible(False)
        ax.spines['left'].set_color(GREY)
        ax.spines['bottom'].set_color(GREY)
        ax.spines['left'].set_linewidth(1.2)
        ax.spines['bottom'].set_linewidth(1.2)

# the extend tips are drawn inside the axes, so this box runs from tip to tip
cax = pixel_axes(1299, 55, 73, 1466.7)
sm = ScalarMappable(norm=Normalize(-0.08, 0.08), cmap='cividis')
cbar = fig.colorbar(sm, cax=cax, extend='both', extendfrac=0.05)
cbar.set_ticks(np.arange(-0.08, 0.081, 0.02))
cbar.ax.tick_params(length=6, width=0.8, labelsize=18, pad=5, direction='in')
cbar.set_label(r'$\Delta$(colour) [mag]', fontsize=18.5, labelpad=3)
cbar.outline.set_edgecolor(GREY)
cbar.outline.set_linewidth(1.2)

fig.savefig('out.png', dpi=100)
